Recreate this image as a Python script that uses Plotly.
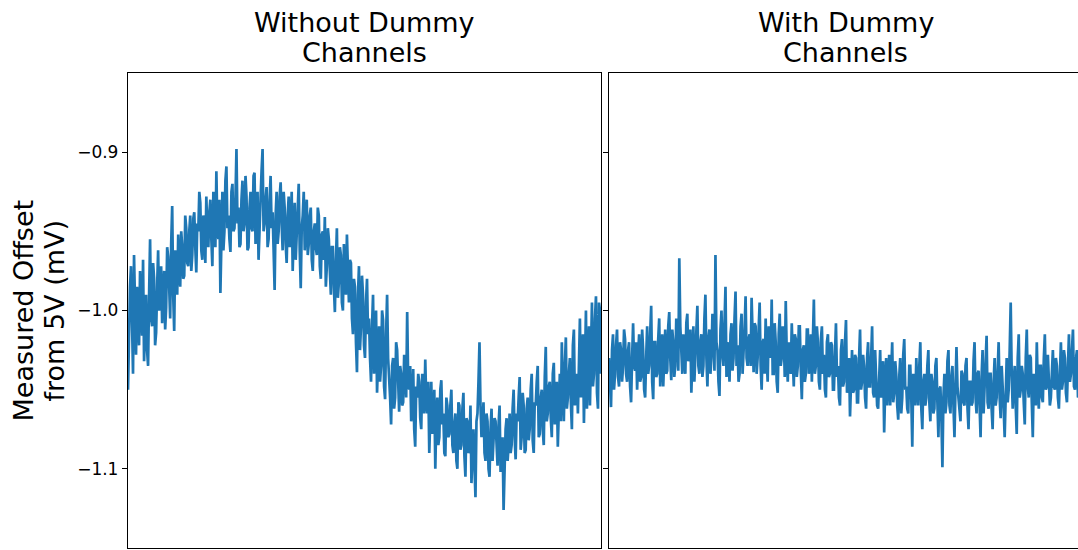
import plotly.graph_objects as go
from plotly.subplots import make_subplots

# Measured offset from 5 V (mV). Each run is logged as two interleaved
# sample streams (even / odd readings).
without_dummy_even = [
    -1.050, -0.985, -1.020, -0.965, -1.028, -1.005, -0.975, -1.016, -1.032, -0.990,
    -1.035, -0.955, -1.010, -0.980, -1.014, -0.962, -0.995, -1.008, -0.975, -0.998,
    -0.966, -1.005, -0.934, -1.013, -0.970, -0.952, -0.985, -0.960, -0.978, -0.948,
    -0.972, -0.940, -0.965, -0.938, -0.976, -0.950, -0.932, -0.968, -0.945, -0.928,
    -0.960, -0.930, -0.972, -0.945, -0.912, -0.955, -0.989, -0.925, -0.950, -0.909,
    -0.940, -0.963, -0.920, -0.948, -0.898, -0.935, -0.958, -0.918, -0.945, -0.928,
    -0.960, -0.925, -0.950, -0.913, -0.940, -0.968, -0.930, -0.898, -0.945, -0.922,
    -0.955, -0.915, -0.938, -0.987, -0.925, -0.950, -0.919, -0.962, -0.935, -0.970,
    -0.928, -0.948, -0.975, -0.932, -0.955, -0.920, -0.986, -0.940, -0.962, -0.930,
    -0.958, -0.935, -0.975, -0.945, -0.965, -0.940, -0.980, -0.950, -0.941, -0.972,
    -0.955, -0.990, -0.960, -1.001, -0.948, -0.982, -0.965, -1.000, -0.975, -0.952,
    -0.995, -0.970, -1.015, -0.985, -1.039, -0.972, -1.010, -0.990, -1.030, -0.980,
    -1.005, -1.045, -0.990, -1.025, -1.052, -1.010, -1.035, -1.006, -1.056, -0.990,
    -1.040, -1.072, -1.030, -1.055, -1.025, -1.064, -1.040, -1.058, -1.035, -1.001,
    -1.050, -1.070, -1.037, -1.086, -1.055, -1.045, -1.075, -1.050, -1.031, -1.065,
    -1.090, -1.045, -1.070, -1.100, -1.055, -1.080, -1.044, -1.065, -1.092, -1.060,
    -1.078, -1.050, -1.090, -1.065, -1.100, -1.060, -1.085, -1.052, -1.105, -1.070,
    -1.088, -1.109, -1.075, -1.118, -1.065, -1.020, -1.080, -1.058, -1.095, -1.070,
    -1.105, -1.062, -1.085, -1.070, -1.098, -1.060, -1.090, -1.126, -1.075, -1.095,
    -1.065, -1.085, -1.050, -1.094, -1.070, -1.042, -1.080, -1.060, -1.088, -1.055,
    -1.075, -1.040, -1.090, -1.060, -1.035, -1.078, -1.050, -1.085, -1.023, -1.065,
    -1.045, -1.080, -1.033, -1.060, -1.086, -1.040, -1.020, -1.070, -1.017, -1.055,
    -1.030, -1.075, -1.012, -1.050, -1.065, -1.005, -1.040, -1.071, -1.000, -1.035,
    -1.060, -0.995, -1.040, -0.991, -1.062, -1.000,
]

without_dummy_odd = [
    -1.010, -0.972, -1.040, -0.995, -0.985, -1.022, -1.000, -0.968, -1.010, -1.025,
    -0.990, -1.005, -0.970, -1.022, -0.985, -1.000, -0.972, -0.988, -1.012, -0.960,
    -0.985, -0.958, -0.990, -0.962, -0.990, -0.975, -0.950, -0.980, -0.940, -0.970,
    -0.950, -0.975, -0.942, -0.960, -0.945, -0.925, -0.962, -0.940, -0.970, -0.950,
    -0.938, -0.955, -0.925, -0.960, -0.948, -0.930, -0.940, -0.962, -0.918, -0.948,
    -0.955, -0.925, -0.950, -0.930, -0.945, -0.960, -0.930, -0.950, -0.915, -0.962,
    -0.935, -0.948, -0.915, -0.958, -0.925, -0.942, -0.912, -0.950, -0.930, -0.960,
    -0.930, -0.948, -0.962, -0.940, -0.958, -0.928, -0.945, -0.925, -0.958, -0.940,
    -0.960, -0.925, -0.950, -0.968, -0.935, -0.962, -0.948, -0.925, -0.945, -0.965,
    -0.940, -0.968, -0.950, -0.960, -0.935, -0.972, -0.952, -0.968, -0.985, -0.948,
    -0.975, -0.960, -0.985, -0.970, -0.992, -0.960, -0.995, -0.958, -0.990, -0.980,
    -0.968, -1.005, -0.980, -1.020, -0.990, -1.025, -0.978, -1.022, -0.995, -1.015,
    -1.030, -1.010, -1.040, -1.000, -1.020, -1.045, -1.000, -1.048, -1.015, -1.030,
    -1.055, -1.035, -1.062, -1.020, -1.050, -1.035, -1.060, -1.028, -1.055, -1.045,
    -1.035, -1.060, -1.075, -1.048, -1.040, -1.068, -1.040, -1.065, -1.058, -1.045,
    -1.060, -1.078, -1.050, -1.068, -1.085, -1.050, -1.072, -1.090, -1.055, -1.080,
    -1.060, -1.085, -1.072, -1.095, -1.058, -1.088, -1.062, -1.092, -1.068, -1.090,
    -1.060, -1.090, -1.098, -1.070, -1.045, -1.060, -1.070, -1.090, -1.065, -1.100,
    -1.075, -1.095, -1.068, -1.092, -1.072, -1.102, -1.080, -1.098, -1.068, -1.085,
    -1.090, -1.062, -1.080, -1.065, -1.055, -1.088, -1.052, -1.090, -1.062, -1.082,
    -1.050, -1.082, -1.058, -1.045, -1.080, -1.055, -1.075, -1.042, -1.070, -1.048,
    -1.068, -1.040, -1.072, -1.045, -1.055, -1.070, -1.050, -1.035, -1.062, -1.040,
    -1.058, -1.022, -1.060, -1.040, -1.020, -1.055, -1.015, -1.045, -1.062, -1.010,
    -1.020, -1.048, -1.005, -1.052, -0.995, -1.040,
]

with_dummy_even = [
    -1.030, -1.061, -1.015, -1.040, -1.012, -1.048, -1.025, -1.035, -1.018, -1.045,
    -1.020, -1.058, -1.008, -1.038, -1.050, -1.015, -1.042, -1.025, -1.055, -1.010,
    -1.035, -0.997, -1.056, -1.020, -1.040, -1.005, -1.030, -1.048, -1.012, -1.038,
    -1.001, -1.044, -1.020, -1.035, -1.010, -0.967, -1.030, -1.015, -1.040, -1.002,
    -1.030, -1.052, -1.010, -1.025, -0.997, -1.040, -1.015, -1.035, -0.990, -1.048,
    -1.012, -1.030, -1.005, -0.965, -1.025, -1.054, -1.000, -1.035, -0.985, -1.020,
    -1.045, -1.008, -1.030, -0.988, -1.022, -1.040, -1.002, -1.028, -0.991, -1.035,
    -1.015, -0.992, -1.039, -1.010, -1.030, -0.995, -1.050, -1.018, -1.005, -1.045,
    -1.012, -0.993, -1.040, -1.020, -1.052, -1.002, -1.030, -1.015, -0.994, -1.045,
    -1.025, -1.008, -1.048, -1.018, -1.035, -1.010, -1.056, -1.022, -1.040, -1.012,
    -1.030, -1.045, -0.993, -1.035, -1.020, -1.050, -1.010, -1.028, -1.055, -1.015,
    -1.040, -1.022, -1.050, -1.008, -1.035, -1.060, -1.018, -1.045, -1.006, -1.040,
    -1.067, -1.025, -1.050, -1.030, -1.058, -1.012, -1.045, -1.035, -1.062, -1.020,
    -1.048, -1.010, -1.055, -1.038, -1.062, -1.025, -1.050, -1.077, -1.030, -1.045,
    -1.060, -1.020, -1.052, -1.040, -1.069, -1.030, -1.055, -1.018, -1.048, -1.065,
    -1.035, -1.086, -1.045, -1.030, -1.060, -1.020, -1.075, -1.040, -1.055, -1.025,
    -1.070, -1.045, -1.062, -1.030, -1.080, -1.048, -1.099, -1.040, -1.058, -1.025,
    -1.065, -1.035, -1.080, -1.023, -1.055, -1.070, -1.040, -1.060, -1.030, -1.075,
    -1.045, -1.058, -1.020, -1.065, -1.038, -1.080, -1.025, -1.050, -1.016, -1.062,
    -1.040, -1.075, -1.030, -1.055, -1.020, -1.068, -1.045, -1.080, -1.030, -1.050,
    -0.995, -1.062, -1.035, -1.078, -1.015, -1.050, -1.040, -1.072, -1.012, -1.055,
    -1.030, -1.080, -1.045, -1.020, -1.062, -1.035, -1.058, -1.015, -1.048, -1.040,
    -1.055, -1.025, -1.050, -1.035, -1.062, -1.020, -1.045, -1.030, -1.058, -1.015,
    -1.040, -1.012, -1.050, -1.025, -1.045, -1.030,
]

with_dummy_odd = [
    -1.045, -1.025, -1.050, -1.022, -1.042, -1.020, -1.045, -1.012, -1.040, -1.025,
    -1.048, -1.030, -1.035, -1.020, -1.028, -1.045, -1.012, -1.050, -1.030, -1.040,
    -1.015, -1.045, -1.020, -1.042, -1.018, -1.048, -1.015, -1.025, -1.040, -1.010,
    -1.030, -1.012, -1.042, -1.005, -1.038, -1.010, -1.040, -1.025, -1.008, -1.032,
    -1.012, -1.030, -1.045, -1.005, -1.035, -1.020, -1.042, -1.005, -1.030, -1.018,
    -1.040, -1.002, -1.038, -1.020, -1.045, -1.012, -1.028, -1.008, -1.042, -1.030,
    -1.015, -1.038, -1.005, -1.035, -1.045, -1.010, -1.040, -1.012, -1.030, -1.018,
    -1.035, -1.020, -1.008, -1.040, -1.012, -1.035, -1.020, -1.040, -1.030, -1.010,
    -1.030, -1.040, -1.008, -1.045, -1.015, -1.035, -1.010, -1.042, -1.028, -1.020,
    -1.040, -1.030, -1.015, -1.042, -1.010, -1.038, -1.025, -1.045, -1.012, -1.040,
    -1.015, -1.022, -1.040, -1.010, -1.045, -1.018, -1.040, -1.050, -1.020, -1.042,
    -1.020, -1.050, -1.028, -1.042, -1.055, -1.025, -1.048, -1.020, -1.052, -1.030,
    -1.035, -1.052, -1.028, -1.058, -1.030, -1.050, -1.028, -1.055, -1.030, -1.048,
    -1.030, -1.052, -1.025, -1.060, -1.035, -1.055, -1.032, -1.050, -1.060, -1.028,
    -1.040, -1.058, -1.032, -1.060, -1.042, -1.065, -1.028, -1.050, -1.062, -1.035,
    -1.055, -1.040, -1.060, -1.050, -1.035, -1.062, -1.045, -1.060, -1.035, -1.058,
    -1.040, -1.065, -1.035, -1.058, -1.050, -1.068, -1.055, -1.065, -1.032, -1.060,
    -1.042, -1.060, -1.050, -1.048, -1.065, -1.038, -1.058, -1.035, -1.062, -1.045,
    -1.060, -1.032, -1.055, -1.040, -1.060, -1.042, -1.065, -1.035, -1.058, -1.040,
    -1.062, -1.045, -1.060, -1.038, -1.055, -1.035, -1.062, -1.045, -1.058, -1.025,
    -1.040, -1.045, -1.060, -1.030, -1.055, -1.035, -1.058, -1.030, -1.048, -1.028,
    -1.058, -1.040, -1.060, -1.050, -1.035, -1.055, -1.030, -1.050, -1.028, -1.060,
    -1.035, -1.048, -1.030, -1.055, -1.040, -1.050, -1.025, -1.052, -1.035, -1.045,
    -1.025, -1.048, -1.030, -1.055, -1.022, -1.042,
]

panel_title_lines = [["Without Dummy", "Channels"], ["With Dummy", "Channels"]]
y_label_lines = ["Measured Offset", "from 5V (mV)"]
y_ticks = [-0.9, -1.0, -1.1]
y_range = [-1.15, -0.85]
line_color = "#1f77b4"
font_family = "DejaVu Sans"


def interleave(even, odd):
    out = []
    for a, b in zip(even, odd):
        out.extend([a, b])
    return out


without_dummy = interleave(without_dummy_even, without_dummy_odd)
with_dummy = interleave(with_dummy_even, with_dummy_odd)

W, H = 1078, 550
ml, mr, mt, mb = 128, 0, 73, 2
plot_w = W - ml - mr
plot_h = H - mt - mb
left_dom = [0.0, 473 / plot_w]
right_dom = [481 / plot_w, 1.0]

fig = make_subplots(rows=1, cols=2, shared_yaxes=True)

for col, series in ((1, without_dummy), (2, with_dummy)):
    fig.add_trace(
        go.Scatter(
            x=list(range(len(series))),
            y=series,
            mode="lines",
            line=dict(color=line_color, width=2.7),
            showlegend=False,
            hoverinfo="skip",
        ),
        row=1,
        col=col,
    )

axis_common = dict(
    showline=True,
    linecolor="black",
    linewidth=1.3,
    mirror=True,
    showgrid=False,
    zeroline=False,
)

n_left = len(without_dummy) - 1
n_right = n_left * (right_dom[1] - right_dom[0]) / (left_dom[1] - left_dom[0])

fig.update_layout(
    width=W,
    height=H,
    margin=dict(l=ml, r=mr, t=mt, b=mb),
    paper_bgcolor="white",
    plot_bgcolor="white",
    font=dict(family=font_family, color="black"),
    xaxis=dict(domain=left_dom, range=[0, n_left],
               showticklabels=False, ticks="", **axis_common),
    xaxis2=dict(domain=right_dom, range=[0, n_right],
                showticklabels=False, ticks="", **axis_common),
    yaxis=dict(range=y_range, tickvals=y_ticks,
               ticktext=[f"{v:.1f}".replace("-", "\u2212") for v in y_ticks],
               ticks="outside", ticklen=5, tickwidth=1.2, tickcolor="black",
               tickfont=dict(size=17, family=font_family), **axis_common),
    yaxis2=dict(range=y_range, tickvals=y_ticks, showticklabels=False,
                ticks="outside", ticklen=5, tickwidth=1.2, tickcolor="black",
                matches="y", **axis_common),
)


def paper_y(py):
    return 1 - (py - mt) / plot_h


def paper_x(px):
    return (px - ml) / plot_w


# Panel titles, one annotation per text line
left_center = (left_dom[0] + left_dom[1]) / 2
right_center = right_dom[0] + (left_dom[1] - left_dom[0]) / 2
for xc, lines in ((left_center, panel_title_lines[0]), (right_center, panel_title_lines[1])):
    for py, txt in zip((22, 52), lines):
        fig.add_annotation(
            x=xc, y=paper_y(py), xref="paper", yref="paper",
            xanchor="center", yanchor="middle",
            text=txt, showarrow=False,
            font=dict(size=27, family=font_family, color="black"),
        )

# Shared y-axis label
for px, txt in zip((23, 54), y_label_lines):
    fig.add_annotation(
        x=paper_x(px), y=paper_y(310.5), xref="paper", yref="paper",
        xanchor="center", yanchor="middle",
        text=txt, textangle=-90, showarrow=False,
        font=dict(size=27, family=font_family, color="black"),
    )

fig.write_html("out.html")
